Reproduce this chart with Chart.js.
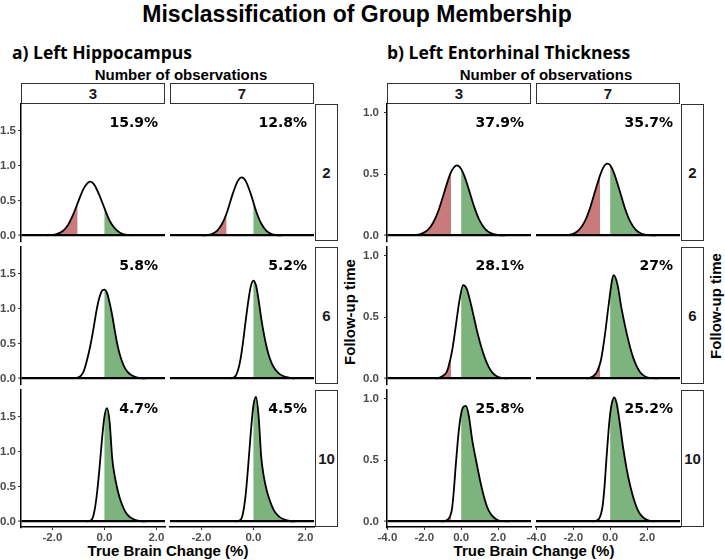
<!DOCTYPE html>
<html>
<head>
<meta charset="utf-8">
<script src="https://cdn.jsdelivr.net/npm/chart.js@4.4.1/dist/chart.umd.min.js"></script>
<style>
  body { margin: 0; background: #fff; }
  #wrap { position: relative; width: 725px; height: 560px; overflow: hidden; font-family: "Liberation Sans", Arial, sans-serif; }
  .txt { position: absolute; white-space: nowrap; line-height: 1; transform: translate(-50%, -50%); }
  .strip { position: absolute; box-sizing: border-box; border: 1px solid #333; background: #fff;
           display: flex; align-items: center; justify-content: center;
           font: bold 15px "Liberation Sans", Arial, sans-serif; color: #1a1a1a; }
  canvas { position: absolute; }
</style>
</head>
<body>
<div id="wrap"></div>
<script>
// Facets
const observations = ["3", "7"];
const followUp = ["2", "6", "10"];
const regionTitles = ["a) Left Hippocampus", "b) Left Entorhinal Thickness"];

// Misclassification labels, rows = follow-up time, cols = observations
const hippoPct = [["15.9%", "12.8%"], ["5.8%", "5.2%"], ["4.7%", "4.5%"]];
const entoPct = [["37.9%", "35.7%"], ["28.1%", "27%"], ["25.8%", "25.2%"]];

// Shading cut-offs (red below first, green above second)
const hippoCuts = [-1.04, 0];
const entoCuts = [-0.56, 0];

// Tick labels
const hippoXTicks = [-2, 0, 2];
const entoXTicks = [-4, -2, 0, 2];
const hippoYTicks = [0, 0.5, 1, 1.5];
const entoYTicks = [0, 0.5, 1];

// Density curves (x = true brain change, y = density)
const hippoF2N3x = [-2.2, -1.9, -1.6, -1.4, -1.2, -1.0, -0.8, -0.55, -0.4, -0.2, 0, 0.2, 0.4, 0.6, 0.8, 1.1];
const hippoF2N3y = [0.002, 0.012, 0.064, 0.15, 0.30, 0.49, 0.67, 0.77, 0.73, 0.58, 0.39, 0.21, 0.10, 0.038, 0.012, 0.002];
const hippoF2N7x = [-2.0, -1.8, -1.6, -1.4, -1.2, -1.0, -0.8, -0.6, -0.45, -0.3, -0.1, 0.1, 0.3, 0.5, 0.7, 0.9, 1.1];
const hippoF2N7y = [0.001, 0.005, 0.02, 0.065, 0.17, 0.35, 0.59, 0.78, 0.83, 0.78, 0.59, 0.35, 0.17, 0.065, 0.02, 0.005, 0.001];
const hippoF6N3x = [-1.1, -0.9, -0.8, -0.7, -0.6, -0.5, -0.4, -0.3, -0.2, -0.1, 0, 0.1, 0.2, 0.3, 0.4, 0.5, 0.6, 0.7, 0.8, 0.9, 1.0, 1.2, 1.4, 1.6];
const hippoF6N3y = [0, 0.04, 0.10, 0.22, 0.37, 0.55, 0.76, 0.98, 1.15, 1.25, 1.27, 1.22, 1.08, 0.90, 0.68, 0.48, 0.33, 0.22, 0.14, 0.09, 0.055, 0.02, 0.005, 0];
const hippoF6N7x = [-0.9, -0.7, -0.6, -0.5, -0.4, -0.3, -0.2, -0.1, 0, 0.1, 0.2, 0.3, 0.4, 0.5, 0.6, 0.7, 0.8, 0.9, 1.0, 1.2, 1.4, 1.6];
const hippoF6N7y = [0, 0.03, 0.11, 0.27, 0.52, 0.82, 1.10, 1.32, 1.40, 1.33, 1.12, 0.86, 0.64, 0.46, 0.32, 0.22, 0.15, 0.10, 0.065, 0.025, 0.008, 0];
const hippoF10N3x = [-0.7, -0.5, -0.4, -0.3, -0.2, -0.1, 0, 0.1, 0.2, 0.3, 0.4, 0.5, 0.6, 0.7, 0.8, 0.9, 1.0, 1.2, 1.4, 1.6];
const hippoF10N3y = [0, 0.02, 0.12, 0.36, 0.72, 1.15, 1.50, 1.62, 1.42, 0.90, 0.64, 0.46, 0.32, 0.22, 0.14, 0.09, 0.055, 0.02, 0.005, 0];
const hippoF10N7x = [-0.7, -0.5, -0.4, -0.3, -0.2, -0.1, 0, 0.1, 0.2, 0.3, 0.4, 0.5, 0.6, 0.7, 0.8, 0.9, 1.0, 1.2, 1.4, 1.6];
const hippoF10N7y = [0, 0.02, 0.12, 0.38, 0.80, 1.28, 1.66, 1.78, 1.50, 0.92, 0.64, 0.46, 0.33, 0.23, 0.15, 0.10, 0.065, 0.025, 0.006, 0];

const entoF2N3x = [-2.6, -2.2, -1.8, -1.5, -1.2, -0.9, -0.6, -0.4, -0.23, 0, 0.2, 0.4, 0.7, 1.0, 1.3, 1.6, 2.0, 2.4];
const entoF2N3y = [0.002, 0.011, 0.046, 0.11, 0.216, 0.36, 0.50, 0.553, 0.57, 0.54, 0.473, 0.38, 0.235, 0.12, 0.052, 0.019, 0.0035, 0];
const entoF2N7x = [-2.4, -2.0, -1.7, -1.4, -1.1, -0.8, -0.5, -0.3, -0.15, 0, 0.2, 0.5, 0.8, 1.1, 1.4, 1.7, 2.1, 2.5];
const entoF2N7y = [0.002, 0.014, 0.043, 0.108, 0.22, 0.37, 0.51, 0.571, 0.585, 0.571, 0.51, 0.37, 0.22, 0.108, 0.043, 0.014, 0.002, 0];
const entoF6N3x = [-1.4, -1.2, -1.0, -0.8, -0.7, -0.5, -0.3, -0.1, 0.1, 0.3, 0.5, 0.7, 0.9, 1.1, 1.3, 1.5, 1.7, 1.9, 2.2, 2.5];
const entoF6N3y = [0, 0.006, 0.02, 0.05, 0.09, 0.22, 0.42, 0.63, 0.76, 0.73, 0.62, 0.49, 0.36, 0.25, 0.16, 0.09, 0.045, 0.02, 0.005, 0];
const entoF6N7x = [-1.3, -1.1, -0.9, -0.7, -0.5, -0.3, -0.1, 0.1, 0.2, 0.4, 0.6, 0.8, 1.0, 1.2, 1.4, 1.6, 1.8, 2.0, 2.3, 2.6];
const entoF6N7y = [0, 0.005, 0.02, 0.06, 0.15, 0.34, 0.58, 0.80, 0.84, 0.76, 0.58, 0.43, 0.30, 0.19, 0.11, 0.055, 0.025, 0.01, 0.002, 0];
const entoF10N3x = [-1.1, -0.9, -0.7, -0.6, -0.5, -0.4, -0.3, -0.2, -0.1, 0, 0.1, 0.25, 0.4, 0.6, 0.8, 1.0, 1.2, 1.4, 1.6, 1.8, 2.0, 2.3, 2.6];
const entoF10N3y = [0, 0.003, 0.02, 0.045, 0.10, 0.25, 0.45, 0.63, 0.78, 0.88, 0.93, 0.94, 0.87, 0.66, 0.50, 0.35, 0.22, 0.12, 0.06, 0.028, 0.01, 0.002, 0];
const entoF10N7x = [-1.0, -0.8, -0.6, -0.5, -0.4, -0.3, -0.2, -0.1, 0, 0.1, 0.22, 0.35, 0.5, 0.7, 0.9, 1.1, 1.3, 1.5, 1.7, 1.9, 2.1, 2.4];
const entoF10N7y = [0, 0.004, 0.025, 0.06, 0.14, 0.30, 0.52, 0.72, 0.88, 0.97, 1.01, 0.96, 0.82, 0.60, 0.42, 0.28, 0.17, 0.09, 0.045, 0.02, 0.007, 0];

const hippoCurves = [
  [[hippoF2N3x, hippoF2N3y], [hippoF2N7x, hippoF2N7y]],
  [[hippoF6N3x, hippoF6N3y], [hippoF6N7x, hippoF6N7y]],
  [[hippoF10N3x, hippoF10N3y], [hippoF10N7x, hippoF10N7y]]
];
const entoCurves = [
  [[entoF2N3x, entoF2N3y], [entoF2N7x, entoF2N7y]],
  [[entoF6N3x, entoF6N3y], [entoF6N7x, entoF6N7y]],
  [[entoF10N3x, entoF10N3y], [entoF10N7x, entoF10N7y]]
];

// Colours
const RED = "#C97B7B";
const GREEN = "#7DB37D";
const TICK_FONT = { family: "Liberation Sans", size: 11.5, weight: "bold" };

// Layout
const rowTops = [104, 247, 390];
const PANEL_W = 144, PANEL_H = 137, M = 16, X_AXIS_H = 18;
const groups = [
  { title: regionTitles[0], titleX: 12, pct: hippoPct, curves: hippoCurves, cuts: hippoCuts,
    xTicks: hippoXTicks, yTicks: hippoYTicks, xMin: -3.21, xMax: 2.33, yMin: -0.08, yMax: 1.88,
    lefts: [21, 170], yAxisW: 21, yPad: 2, stripX: 315, obsX: 181, followX: 349, followY: 312, xTitleX: 168 },
  { title: regionTitles[1], titleX: 387, pct: entoPct, curves: entoCurves, cuts: entoCuts,
    xTicks: entoXTicks, yTicks: entoYTicks, xMin: -4.02, xMax: 3.78, yMin: -0.045, yMax: 1.07,
    lefts: [387, 536], yAxisW: 25, yPad: 5, stripX: 681, obsX: 546, followX: 715, followY: 306, xTitleX: 534 }
];

// Clip a dataset (and its fill) to an x range
const fillClip = {
  id: "fillClip",
  beforeDatasetDraw(chart, args) {
    const ds = chart.data.datasets[args.index];
    if (!ds.clipX) return;
    const xs = chart.scales.x, a = chart.chartArea;
    const l = ds.clipX[0] === null ? a.left : Math.max(a.left, xs.getPixelForValue(ds.clipX[0]));
    const r = ds.clipX[1] === null ? a.right : Math.min(a.right, xs.getPixelForValue(ds.clipX[1]));
    chart.ctx.save();
    chart.ctx.beginPath();
    chart.ctx.rect(l, a.top, Math.max(0, r - l), a.bottom - a.top);
    chart.ctx.clip();
  },
  afterDatasetDraw(chart, args) {
    if (chart.data.datasets[args.index].clipX) chart.ctx.restore();
  }
};
if (Chart.Filler) {
  Chart.unregister(Chart.Filler);
  Chart.register(fillClip, Chart.Filler);
} else {
  Chart.register(fillClip);
}

// Percentage label in the top right corner
const pctLabel = {
  id: "pctLabel",
  afterDatasetsDraw(chart, args, opts) {
    const { ctx, chartArea } = chart;
    ctx.save();
    ctx.font = 'bold 14px "DejaVu Sans"';
    ctx.fillStyle = "#000";
    ctx.textAlign = "right";
    ctx.textBaseline = "middle";
    ctx.fillText(opts.text, chartArea.right - 7, chartArea.top + 19);
    ctx.restore();
  }
};

const wrap = document.getElementById("wrap");

function addText(text, x, y, font, rotate) {
  const d = document.createElement("div");
  d.className = "txt";
  d.textContent = text;
  d.style.left = x + "px";
  d.style.top = y + "px";
  d.style.font = font;
  if (rotate) d.style.transform = "translate(-50%, -50%) rotate(-90deg)";
  wrap.appendChild(d);
}

function addStrip(text, x, y, w, h) {
  const d = document.createElement("div");
  d.className = "strip";
  d.textContent = text;
  d.style.left = x + "px";
  d.style.top = y + "px";
  d.style.width = w + "px";
  d.style.height = h + "px";
  wrap.appendChild(d);
}

function toPoints(xs, ys) {
  return xs.map((x, i) => ({ x: x, y: ys[i] }));
}

function drawPanel(g, r, c) {
  const yW = c === 0 ? g.yAxisW : 0;
  const xH = r === 2 ? X_AXIS_H : 0;
  const canvas = document.createElement("canvas");
  const w = PANEL_W + yW + 2 * M, h = PANEL_H + xH + 2 * M;
  canvas.width = w; canvas.height = h;
  canvas.style.width = w + "px"; canvas.style.height = h + "px";
  canvas.style.left = (g.lefts[c] - yW - M) + "px";
  canvas.style.top = (rowTops[r] - M) + "px";
  wrap.appendChild(canvas);

  const [xs, ys] = g.curves[r][c];
  const curve = { cubicInterpolationMode: "monotone", pointRadius: 0 };

  new Chart(canvas, {
    type: "line",
    data: {
      datasets: [
        Object.assign({ data: toPoints(xs, ys), borderColor: "#000", borderWidth: 1.8, fill: false }, curve),
        Object.assign({ data: toPoints(xs, ys), borderColor: "rgba(0,0,0,0)", borderWidth: 0,
          backgroundColor: RED, fill: "origin", clipX: [null, g.cuts[0]] }, curve),
        Object.assign({ data: toPoints(xs, ys), borderColor: "rgba(0,0,0,0)", borderWidth: 0,
          backgroundColor: GREEN, fill: "origin", clipX: [g.cuts[1], null] }, curve)
      ]
    },
    options: {
      responsive: false,
      animation: false,
      events: [],
      layout: { padding: M },
      plugins: { legend: { display: false }, tooltip: { enabled: false }, pctLabel: { text: g.pct[r][c] } },
      scales: {
        x: {
          type: "linear", min: g.xMin, max: g.xMax, display: r === 2,
          afterBuildTicks: s => { s.ticks = g.xTicks.map(v => ({ value: v })); },
          afterFit: s => { s.height = xH; },
          ticks: { padding: 1, font: TICK_FONT, color: "#4d4d4d", maxRotation: 0, autoSkip: false,
                   callback: v => v.toFixed(1) },
          grid: { drawOnChartArea: false, drawTicks: true, tickLength: 3, tickColor: "#333" },
          border: { display: true, color: "#000", width: 1.5, z: 1 }
        },
        y: {
          type: "linear", min: g.yMin, max: g.yMax,
          afterBuildTicks: s => { s.ticks = g.yTicks.map(v => ({ value: v })); },
          afterFit: s => { s.width = yW; },
          ticks: { display: c === 0, padding: g.yPad, font: TICK_FONT, color: "#4d4d4d",
                   callback: v => v.toFixed(1) },
          grid: {
            z: 1,
            drawTicks: c === 0, tickLength: 3, tickColor: "#333", tickWidth: 1,
            color: ctx => (ctx.tick && ctx.tick.value === 0) ? "#000" : "rgba(0,0,0,0)",
            lineWidth: ctx => (ctx.tick && ctx.tick.value === 0) ? 2.2 : 1
          },
          border: { display: c === 0, color: "#000", width: 1.5, z: 1 }
        }
      }
    },
    plugins: [pctLabel]
  });
}

// Page texts
addText("Misclassification of Group Membership", 357, 13.5, 'bold 23px "Liberation Sans", Arial, sans-serif');

groups.forEach(g => {
  const t = document.createElement("div");
  t.className = "txt";
  t.textContent = g.title;
  t.style.transform = "translate(0, -50%)";
  t.style.left = g.titleX + "px";
  t.style.top = "51.8px";
  t.style.font = 'bold 17.5px "Open Sans", sans-serif';
  wrap.appendChild(t);

  addText("Number of observations", g.obsX, 74, 'bold 15px "Liberation Sans", Arial, sans-serif');
  addText("Follow-up time", g.followX, g.followY, 'bold 15px "Liberation Sans", Arial, sans-serif', true);
  addText("True Brain Change (%)", g.xTitleX, 550, 'bold 15px "Liberation Sans", Arial, sans-serif');

  observations.forEach((o, c) => addStrip(o, g.lefts[c], 83, PANEL_W, 21));
  followUp.forEach((f, r) => addStrip(f, g.stripX, rowTops[r], 23, PANEL_H));

  for (let r = 0; r < followUp.length; r++) {
    for (let c = 0; c < observations.length; c++) drawPanel(g, r, c);
  }
});
</script>
</body>
</html>
